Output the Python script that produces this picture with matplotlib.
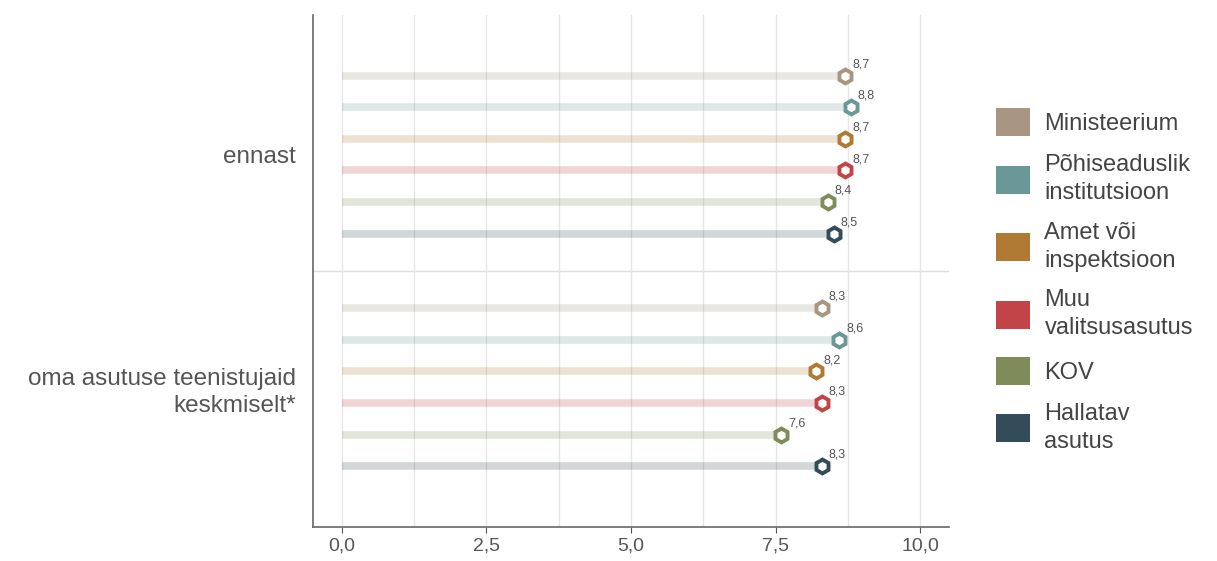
import matplotlib.pyplot as plt
from matplotlib.patches import Patch

groups = ["ennast", "oma asutuse teenistujaid\nkeskmiselt*"]
series = ["Ministeerium", "Põhiseaduslik\ninstitutsioon", "Amet või\ninspektsioon",
          "Muu\nvalitsusasutus", "KOV", "Hallatav\nasutus"]
colors = ["#a89582", "#6a9896", "#b07a34", "#c24448", "#7f8c5a", "#344b59"]
ennast = [8.7, 8.8, 8.7, 8.7, 8.4, 8.5]
teenistujad = [8.3, 8.6, 8.2, 8.3, 7.6, 8.3]
values = [ennast, teenistujad]

plt.rcParams['font.family'] = ['Liberation Sans', 'DejaVu Sans']

fig = plt.figure(figsize=(12.17, 5.61), dpi=100)
ax = fig.add_axes([0.257, 0.061, 0.523, 0.912])

step = 0.136
for g, vals in enumerate(values):
    for i, v in enumerate(vals):
        y = g + (i - 2.5) * step
        ax.plot([0, v], [y, y], color=colors[i], alpha=0.22, lw=5.5,
                solid_capstyle='butt', zorder=2)
        ax.plot(v, y, marker='h', ms=10, mfc='white', mec=colors[i], mew=2.8, zorder=3)
        ax.annotate(f"{v:.1f}".replace('.', ','), (v, y), xytext=(5, 6),
                    textcoords='offset points', fontsize=9, color='#555555')

ax.axhline(0.5, color='#dddddd', lw=1, zorder=1)
ax.set_xlim(-0.5, 10.5)
ax.set_ylim(1.6, -0.6)
ax.set_xticks([0, 2.5, 5, 7.5, 10])
ax.set_xticklabels(["0,0", "2,5", "5,0", "7,5", "10,0"])
ax.set_xticks([1.25, 3.75, 6.25, 8.75], minor=True)
ax.grid(axis='x', which='both', color='#e6e6e6', lw=1, zorder=0)
ax.set_yticks([0, 1])
ax.set_yticklabels(groups, ha='right', linespacing=1.3)
ax.tick_params(axis='y', length=0, pad=12, labelsize=17.5, labelcolor='#555555')
ax.tick_params(axis='x', which='major', length=4, color='#555555', labelsize=14,
               labelcolor='#555555')
ax.tick_params(axis='x', which='minor', length=0)
for s in ['top', 'right']:
    ax.spines[s].set_visible(False)
for s in ['left', 'bottom']:
    ax.spines[s].set_color('#666666')
    ax.spines[s].set_linewidth(1.2)

handles = [Patch(facecolor=c, edgecolor='none') for c in colors]
leg = fig.legend(handles, series, loc='center left', bbox_to_anchor=(0.801, 0.5),
                 frameon=False, fontsize=17, handlelength=1.45, handleheight=1.45,
                 labelspacing=0.75, handletextpad=0.6, labelcolor='#444444')
for t in leg.get_texts():
    t.set_linespacing(1.35)

plt.savefig("out.png", dpi=100)
